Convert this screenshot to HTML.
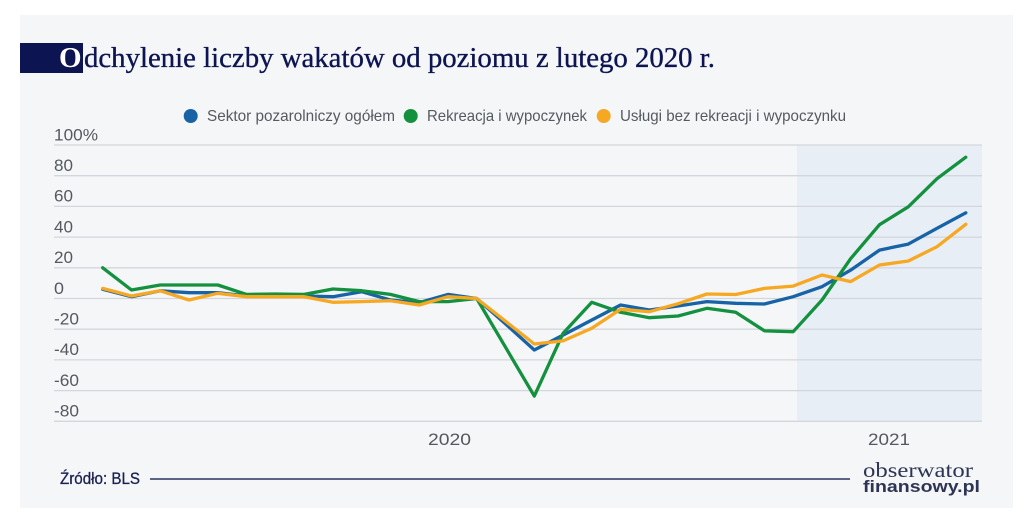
<!DOCTYPE html>
<html><head><meta charset="utf-8"><style>
html,body{margin:0;padding:0;background:#fff;}
svg{display:block;}
</style></head><body>
<svg width="1024" height="520" viewBox="0 0 1024 520" xmlns="http://www.w3.org/2000/svg">
<rect x="0" y="0" width="1024" height="520" fill="#ffffff"/>
<rect x="20" y="15" width="993" height="493" fill="#f5f6f8"/>
<!-- title -->
<rect x="20" y="43" width="63" height="30" fill="#0c1452"/>
<text x="59" y="67" font-family="Liberation Serif, serif" font-size="29" font-weight="bold" fill="#ffffff">O</text>
<text x="84" y="67" font-family="Liberation Serif, serif" font-size="29" fill="#0c1452" stroke="#0c1452" stroke-width="0.35" textLength="631" lengthAdjust="spacingAndGlyphs">dchylenie liczby wakatów od poziomu z lutego 2020 r.</text>
<!-- legend -->
<g font-family="Liberation Sans, sans-serif" font-size="16" fill="#555a60">
<circle cx="190.7" cy="116" r="7" fill="#1763a6"/>
<text x="207" y="121" textLength="188" lengthAdjust="spacingAndGlyphs">Sektor pozarolniczy ogółem</text>
<circle cx="410.7" cy="116" r="7" fill="#14913f"/>
<text x="427" y="121" textLength="160" lengthAdjust="spacingAndGlyphs">Rekreacja i wypoczynek</text>
<circle cx="603.7" cy="116" r="7" fill="#f7a823"/>
<text x="620" y="121" textLength="226" lengthAdjust="spacingAndGlyphs">Usługi bez rekreacji i wypoczynku</text>
</g>
<!-- shaded region -->
<rect x="797" y="145" width="185" height="276.5" fill="#e8eef6"/>
<!-- gridlines -->
<g stroke="#d3d6dc" stroke-width="1.3">
<line x1="54" y1="145" x2="982" y2="145"/>
<line x1="54" y1="175.7" x2="982" y2="175.7"/>
<line x1="54" y1="206.4" x2="982" y2="206.4"/>
<line x1="54" y1="237.1" x2="982" y2="237.1"/>
<line x1="54" y1="267.8" x2="982" y2="267.8"/>
<line x1="54" y1="298.5" x2="982" y2="298.5"/>
<line x1="54" y1="329.2" x2="982" y2="329.2"/>
<line x1="54" y1="359.9" x2="982" y2="359.9"/>
<line x1="54" y1="390.6" x2="982" y2="390.6"/>
<line x1="54" y1="421.3" x2="982" y2="421.3"/>
</g>
<!-- y labels -->
<g font-family="Liberation Sans, sans-serif" font-size="17" fill="#55595f">
<text x="54" y="140.5" textLength="44" lengthAdjust="spacingAndGlyphs">100%</text>
<text x="54" y="171" textLength="19" lengthAdjust="spacingAndGlyphs">80</text>
<text x="54" y="201.7" textLength="19" lengthAdjust="spacingAndGlyphs">60</text>
<text x="54" y="232.4" textLength="19" lengthAdjust="spacingAndGlyphs">40</text>
<text x="54" y="263.1" textLength="19" lengthAdjust="spacingAndGlyphs">20</text>
<text x="54" y="293.8" textLength="10" lengthAdjust="spacingAndGlyphs">0</text>
<text x="54" y="324.5" textLength="25" lengthAdjust="spacingAndGlyphs">-20</text>
<text x="54" y="355.2" textLength="25" lengthAdjust="spacingAndGlyphs">-40</text>
<text x="54" y="385.9" textLength="25" lengthAdjust="spacingAndGlyphs">-60</text>
<text x="54" y="416.6" textLength="25" lengthAdjust="spacingAndGlyphs">-80</text>
</g>
<!-- x labels -->
<g font-family="Liberation Sans, sans-serif" font-size="17" fill="#55595f">
<text x="428" y="445" textLength="43" lengthAdjust="spacingAndGlyphs">2020</text>
<text x="868" y="445" textLength="42" lengthAdjust="spacingAndGlyphs">2021</text>
</g>
<!-- series -->
<g fill="none" stroke-width="3.3" stroke-linejoin="round" stroke-linecap="round">
<polyline stroke="#1763a6" points="102.7,289.3 131.5,296.7 160.2,290.8 189,292.7 217.8,292.7 246.6,296 275.3,296 304.1,296 332.9,296.7 361.6,291.7 390.4,300 419.2,302.6 448,294.4 476.7,298.5 505.5,323.9 534.3,350 563,335.1 591.8,320 620.6,305 649.4,310 678.1,306 706.9,301.6 735.7,303.3 764.4,304 793.2,296.7 822,286.7 850.7,270.1 879.5,250.1 908.3,244.1 937,228.3 965.8,212.8"/>
<polyline stroke="#14913f" points="102.7,267.8 131.5,290 160.2,285 189,285 217.8,285 246.6,294.4 275.3,294 304.1,294.4 332.9,289 361.6,290.7 390.4,294.4 419.2,301.6 448,301.6 476.7,298.5 505.5,347.2 534.3,396.1 563,333.4 591.8,302.3 620.6,312.3 649.4,317.7 678.1,316 706.9,308.3 735.7,312.3 764.4,330.8 793.2,331.7 822,300 850.7,258.6 879.5,224.7 908.3,206.8 937,178.7 965.8,157.2"/>
<polyline stroke="#f7a823" points="102.7,288.4 131.5,296 160.2,290.8 189,300 217.8,293.3 246.6,296.7 275.3,296.7 304.1,296.7 332.9,302.3 361.6,301.6 390.4,300.7 419.2,305 448,296.7 476.7,298.5 505.5,321.2 534.3,344 563,340.9 591.8,328.3 620.6,309.3 649.4,311.7 678.1,303.7 706.9,294 735.7,294.5 764.4,288.4 793.2,286.1 822,275 850.7,281.6 879.5,265 908.3,261 937,246.7 965.8,224.3"/>
</g>
<!-- footer -->
<text x="60" y="484" font-family="Liberation Sans, sans-serif" font-size="17" fill="#1a2050" stroke="#1a2050" stroke-width="0.3" textLength="80" lengthAdjust="spacingAndGlyphs">Źródło: BLS</text>
<line x1="150" y1="479" x2="850" y2="479" stroke="#5d6384" stroke-width="2"/>
<text x="863" y="477" font-family="Liberation Serif, serif" font-size="21" fill="#2e3454" textLength="110" lengthAdjust="spacingAndGlyphs">obserwator</text>
<text x="863" y="492" font-family="Liberation Sans, sans-serif" font-size="17" font-weight="bold" fill="#2e3454" textLength="117" lengthAdjust="spacingAndGlyphs">finansowy.pl</text>
</svg>
</body></html>
